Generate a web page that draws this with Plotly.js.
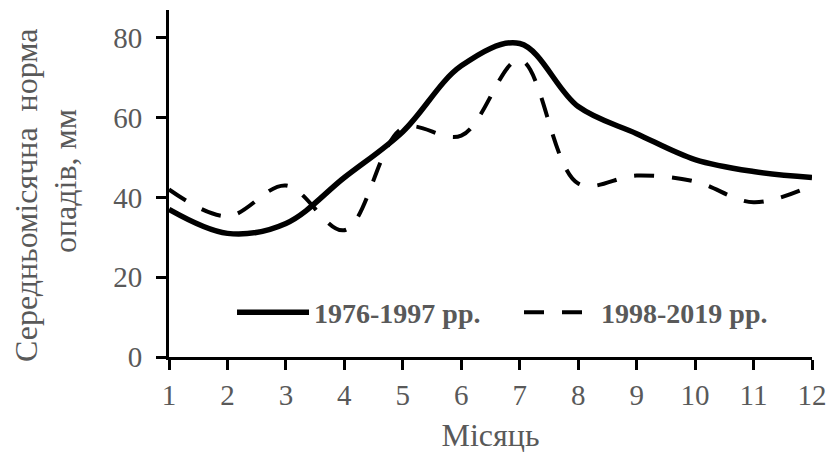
<!DOCTYPE html>
<html>
<head>
<meta charset="utf-8">
<script src="https://cdn.plot.ly/plotly-3.0.1.min.js"></script>
<style>
  html, body { margin: 0; padding: 0; background: #ffffff; }
  #chart { width: 832px; height: 461px; }
</style>
</head>
<body>
<div id="chart"></div>
<script>
// Місяці року
const months = [1, 2, 3, 4, 5, 6, 7, 8, 9, 10, 11, 12];
// Середньомісячна норма опадів, мм
const norm1976_1997 = [37, 31, 33.5, 45, 56.5, 73, 78.6, 62.8, 56, 49.5, 46.5, 45];
const norm1998_2019 = [42, 35.3, 43, 31.8, 57.4, 55.5, 74.5, 43.5, 45.5, 44, 38.8, 43];
// Підписи
const seriesNames = ['1976-1997 рр.', '1998-2019 рр.'];
const xTitle = 'Місяць';
const yTitleLines = ['Середньомісячна  норма', 'опадів, мм'];
const yTicks = [0, 20, 40, 60, 80];

const textGrey = '#595959';
const serif = '"Liberation Serif", "Times New Roman", serif';

const traces = [
  {
    x: months, y: norm1976_1997, name: seriesNames[0],
    type: 'scatter', mode: 'lines',
    line: { color: '#000000', width: 5.5, shape: 'spline', smoothing: 1 }
  },
  {
    x: months, y: norm1998_2019, name: seriesNames[1],
    type: 'scatter', mode: 'lines',
    line: { color: '#000000', width: 4, shape: 'spline', smoothing: 1, dash: '20px,18px' }
  }
];

const layout = {
  width: 832, height: 461,
  margin: { l: 169, r: 20, t: 10, b: 104, autoexpand: false },
  paper_bgcolor: '#ffffff', plot_bgcolor: '#ffffff',
  font: { family: serif, color: textGrey, size: 29 },
  showlegend: true,
  legend: {
    orientation: 'h', x: 0.098, y: 0.128, xanchor: 'left', yanchor: 'middle',
    bgcolor: 'rgba(0,0,0,0)', itemwidth: 72,
    entrywidth: 200, entrywidthmode: 'pixels',
    font: { family: serif, size: 28, color: textGrey, weight: 'bold' }
  },
  xaxis: {
    range: [1, 12], tickvals: months, ticktext: months.map(String),
    automargin: false,
    showgrid: false, zeroline: false,
    showline: true, linecolor: '#000000', linewidth: 3,
    ticks: 'outside', ticklen: 10, tickwidth: 3, tickcolor: '#000000',
    tickfont: { family: serif, size: 29, color: textGrey },
    title: { text: xTitle, font: { family: serif, size: 32, color: textGrey }, standoff: 14 }
  },
  yaxis: {
    range: [0, 87], tickvals: yTicks, ticktext: yTicks.map(String),
    automargin: false,
    showgrid: false, zeroline: false,
    showline: true, linecolor: '#000000', linewidth: 3,
    ticks: 'outside', ticklen: 10, tickwidth: 3, tickcolor: '#000000',
    tickfont: { family: serif, size: 29, color: textGrey },
    ticklabelstandoff: 8
  },
  annotations: [
    {
      text: yTitleLines[0], xref: 'paper', yref: 'paper', x: 0, y: 0.464,
      xshift: -143, textangle: -90, showarrow: false,
      xanchor: 'center', yanchor: 'middle',
      font: { family: serif, size: 32, color: textGrey }
    },
    {
      text: yTitleLines[1], xref: 'paper', yref: 'paper', x: 0, y: 0.507,
      xshift: -104, textangle: -90, showarrow: false,
      xanchor: 'center', yanchor: 'middle',
      font: { family: serif, size: 32, color: textGrey }
    }
  ]
};

Plotly.newPlot('chart', traces, layout, { displayModeBar: false, staticPlot: true });
</script>
</body>
</html>
